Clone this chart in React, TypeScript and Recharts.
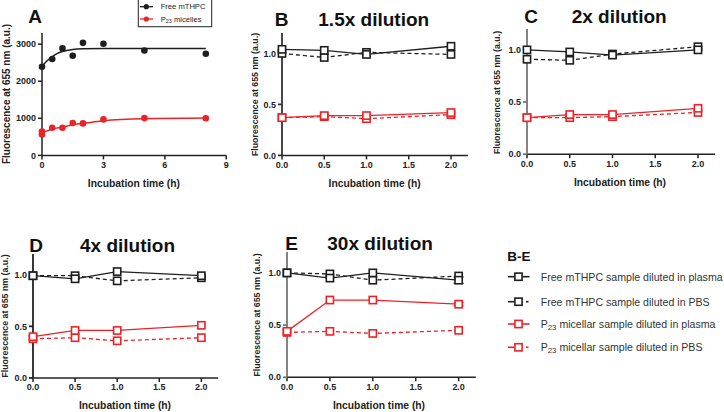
import React from 'react'
import { ComposedChart, LineChart, Line, Scatter, XAxis, YAxis, ErrorBar } from 'recharts'

const FONT = '"Liberation Sans", Arial, sans-serif'
const INK = '#1e1e1e'
const RED = '#ec2227'

const freeTimes = [0, 0.5, 1, 1.5, 2, 3, 5, 8]
const freeValues = [2390, 2600, 2885, 2685, 3035, 3010, 2830, 2740]
const micTimes = [0, 0, 0.5, 1, 1.5, 2, 3, 5, 8]
const micValues = [560, 640, 746, 746, 872, 862, 970, 1006, 1000]
const fitTimes = [0, 0.25, 0.5, 0.75, 1, 1.5, 2, 3, 5, 8]
const fitFree = [2405, 2552, 2660, 2750, 2803, 2857, 2875, 2884, 2884, 2884]
const fitMic = [605, 660, 710, 740, 764, 827, 862, 934, 988, 1006]
const aTicksX = [0, 3, 6, 9]
const aTicksY = [0, 1000, 2000, 3000]

// panels B-E (relative fluorescence)
const dilTimes = [0, 0.5, 1, 2]
const dilTicksX = [0, 0.5, 1, 1.5, 2]
const dilTicksY = [0, 0.5, 1]

const freePlasmaB = [1.04, 1.03, 0.99, 1.07]
const freePbsB = [1.0, 0.96, 1.01, 0.99]
const micPlasmaB = [0.37, 0.39, 0.39, 0.42]
const micPbsB = [0.37, 0.38, 0.36, 0.4]

const freePlasmaC = [1.0, 0.98, 0.95, 1.0]
const freePbsC = [0.91, 0.9, 0.96, 1.03]
const micPlasmaC = [0.35, 0.38, 0.38, 0.44]
const micPbsC = [0.35, 0.35, 0.36, 0.4]

const freePlasmaD = [0.99, 0.96, 1.03, 0.99]
const freePbsD = [0.99, 0.99, 0.94, 0.97]
const micPlasmaD = [0.4, 0.46, 0.46, 0.51]
const micPbsD = [0.38, 0.39, 0.36, 0.39]

const freePlasmaE = [1.0, 0.95, 1.0, 0.93]
const freePbsE = [1.0, 0.99, 0.93, 0.97]
const micPlasmaE = [0.44, 0.74, 0.74, 0.7]
const micPbsE = [0.43, 0.44, 0.42, 0.45]
const freePlasmaErrE = [0, 0, 0, 0.03]
const micPlasmaErrE = [0, 0, 0, 0.015]

const legendLabels = [
  'Free mTHPC sample diluted in plasma',
  'Free mTHPC sample diluted in PBS',
  'micellar sample diluted in plasma',
  'micellar sample diluted in PBS',
]

const pairs = (ts: number[], vs: number[]) => ts.map((t, i) => ({ t, v: vs[i] }))

const rows = (fp: number[], fb: number[], mp: number[], mb: number[], fpe?: number[], mpe?: number[]) =>
  dilTimes.map((t, i) => ({
    t,
    fp: fp[i],
    fb: fb[i],
    mp: mp[i],
    mb: mb[i],
    fpe: fpe ? fpe[i] : 0,
    mpe: mpe ? mpe[i] : 0,
  }))

const tickStyle = { fontSize: 9, fontWeight: 700, fill: '#222', fontFamily: FONT }

const YW = 45
const MT = 6
const MR = 6
const XH = 30

function box(x0: number, x1: number, yTop: number, yBottom: number) {
  return {
    left: x0 - YW,
    top: yTop - MT,
    width: x1 - x0 + YW + MR,
    height: yBottom - yTop + MT + XH,
  }
}

const square = (color: string) => (p: any) => (
  <rect
    key={`sq-${p.index}`}
    x={p.cx - 3.6}
    y={p.cy - 3.6}
    width={7.2}
    height={7.2}
    fill="#fff"
    stroke={color}
    strokeWidth={1.6}
  />
)

const circle = (color: string) => (p: any) => (
  <circle cx={p.cx} cy={p.cy} r={3.3} fill={color} stroke="none" />
)

function PanelA() {
  const b = box(41.7, 226, 32.9, 155.3)
  return (
    <div style={{ position: 'absolute', ...b }}>
      <ComposedChart width={b.width} height={b.height} margin={{ top: MT, right: MR, bottom: 0, left: 0 }}>
        <XAxis
          type="number"
          dataKey="t"
          domain={[0, 9]}
          ticks={aTicksX}
          height={XH}
          tickSize={4}
          tick={tickStyle}
          stroke="#222"
          strokeWidth={1.5}
          allowDuplicatedCategory={false}
        />
        <YAxis
          type="number"
          dataKey="v"
          domain={[0, 3300]}
          ticks={aTicksY}
          width={YW}
          tickSize={4}
          tick={tickStyle}
          stroke="#222"
          strokeWidth={1.5}
        />
        <Line data={pairs(fitTimes, fitFree)} dataKey="v" type="monotone" stroke={INK} strokeWidth={1.5} dot={false} isAnimationActive={false} />
        <Line data={pairs(fitTimes, fitMic)} dataKey="v" type="monotone" stroke={RED} strokeWidth={1.5} dot={false} isAnimationActive={false} />
        <Scatter data={pairs(freeTimes, freeValues)} dataKey="v" fill={INK} shape={circle(INK)} isAnimationActive={false} />
        <Scatter data={pairs(micTimes, micValues)} dataKey="v" fill={RED} shape={circle(RED)} isAnimationActive={false} />
      </ComposedChart>
    </div>
  )
}

interface DilProps {
  x0: number
  x1: number
  yTop: number
  yBottom: number
  data: ReturnType<typeof rows>
  axisColor: string
  errors?: boolean
}

function DilutionPanel({ x0, x1, yTop, yBottom, data, axisColor, errors }: DilProps) {
  const b = box(x0, x1, yTop, yBottom)
  return (
    <div style={{ position: 'absolute', ...b }}>
      <LineChart width={b.width} height={b.height} data={data} margin={{ top: MT, right: MR, bottom: 0, left: 0 }}>
        <XAxis
          type="number"
          dataKey="t"
          domain={[0, 2.2]}
          ticks={dilTicksX}
          tickFormatter={(v: number) => v.toFixed(1)}
          height={XH}
          tickSize={4}
          tick={tickStyle}
          stroke="#222"
          strokeWidth={1.5}
        />
        <YAxis
          type="number"
          domain={[0, 1.2]}
          ticks={dilTicksY}
          tickFormatter={(v: number) => v.toFixed(1)}
          width={YW}
          tickSize={4}
          tick={tickStyle}
          stroke={axisColor}
          strokeWidth={1.8}
        />
        <Line dataKey="fb" type="linear" stroke={INK} strokeWidth={1.3} strokeDasharray="4 3" dot={square(INK)} isAnimationActive={false} />
        <Line dataKey="mb" type="linear" stroke={RED} strokeWidth={1.3} strokeDasharray="4 3" dot={square(RED)} isAnimationActive={false} />
        <Line dataKey="fp" type="linear" stroke={INK} strokeWidth={1.3} dot={square(INK)} isAnimationActive={false}>
          {errors && <ErrorBar dataKey="fpe" width={5} stroke={INK} strokeWidth={1.2} direction="y" />}
        </Line>
        <Line dataKey="mp" type="linear" stroke={RED} strokeWidth={1.3} dot={square(RED)} isAnimationActive={false}>
          {errors && <ErrorBar dataKey="mpe" width={5} stroke={RED} strokeWidth={1.2} direction="y" />}
        </Line>
      </LineChart>
    </div>
  )
}

function YLabel({ x, y, size }: { x: number; y: number; size: number }) {
  return (
    <text
      transform={`translate(${x},${y}) rotate(-90)`}
      textAnchor="middle"
      dominantBaseline="central"
      fontSize={size}
      fontWeight={700}
      fill="#222"
    >
      Fluorescence at 655 nm (a.u.)
    </text>
  )
}

function XLabel({ x, y }: { x: number; y: number }) {
  return (
    <text x={x} y={y} textAnchor="middle" dominantBaseline="central" fontSize={10.3} fontWeight={700} fill="#222">
      Incubation time (h)
    </text>
  )
}

function Title({ letter, lx, text, tx, y }: { letter: string; lx: number; text?: string; tx?: number; y: number }) {
  return (
    <g fontWeight={700} fontSize={19} fill="#111">
      <text x={lx} y={y} textAnchor="middle">{letter}</text>
      {text && <text x={tx} y={y}>{text}</text>}
    </g>
  )
}

function LegendMark({ y, color, dashed }: { y: number; color: string; dashed: boolean }) {
  return (
    <g stroke={color} strokeWidth={1.6}>
      {dashed ? (
        <>
          <line x1={508} y1={y} x2={514} y2={y} />
          <line x1={526} y1={y} x2={528.5} y2={y} />
        </>
      ) : (
        <line x1={508} y1={y} x2={529.5} y2={y} />
      )}
      <rect x={514.9} y={y - 3.6} width={7.2} height={7.2} fill="#fff" />
    </g>
  )
}

function Overlay() {
  const legendRows = [276.7, 301.7, 324, 347.3]
  return (
    <svg
      width={724}
      height={412}
      style={{ position: 'absolute', left: 0, top: 0, pointerEvents: 'none', fontFamily: FONT }}
    >
      <Title letter="A" lx={35} y={23.3} />
      <Title letter="B" lx={281.7} text="1.5x dilution" tx={318.3} y={26} />
      <Title letter="C" lx={531} text="2x dilution" tx={571.7} y={23.3} />
      <Title letter="D" lx={36} text="4x dilution" tx={80} y={251.7} />
      <Title letter="E" lx={291.7} text="30x dilution" tx={327.3} y={250} />

      <YLabel x={6.3} y={94} size={10} />
      <YLabel x={255} y={94.5} size={8.8} />
      <YLabel x={496.7} y={92.5} size={8.8} />
      <YLabel x={4.8} y={316} size={8.8} />
      <YLabel x={256.7} y={315} size={8.8} />

      <XLabel x={133.9} y={183.3} />
      <XLabel x={374.6} y={183} />
      <XLabel x={620} y={182.7} />
      <XLabel x={125} y={405} />
      <XLabel x={379} y={405} />

      {/* panel A legend */}
      <rect x={138.3} y={-0.5} width={73.4} height={27.2} fill="#fff" stroke="#222" strokeWidth={1} />
      <line x1={140} y1={6.7} x2={153} y2={6.7} stroke={INK} strokeWidth={1.3} />
      <circle cx={146.3} cy={6.7} r={2.6} fill={INK} />
      <text x={160.7} y={6.7} dominantBaseline="central" fontSize={7.6} fill="#222">Free mTHPC</text>
      <line x1={140} y1={19} x2={153} y2={19} stroke={RED} strokeWidth={1.3} />
      <circle cx={146.3} cy={19} r={2.6} fill={RED} />
      <text x={160.7} y={19} dominantBaseline="central" fontSize={7.6} fill="#222">
        P<tspan fontSize={5.5} dy={2}>23</tspan>
        <tspan dy={-2}>{'  micelles'}</tspan>
      </text>

      {/* B-E legend */}
      <text x={507.3} y={261} fontSize={13.5} fontWeight={700} fill="#111">B-E</text>
      {legendRows.map((y, i) => (
        <g key={i}>
          <LegendMark y={y} color={i < 2 ? INK : RED} dashed={i % 2 === 1} />
          <text x={540.7} y={y} dominantBaseline="central" fontSize={10.6} fill="#333">
            {i < 2 ? (
              legendLabels[i]
            ) : (
              <>
                P<tspan fontSize={7.8} dy={3}>23</tspan>
                <tspan dy={-3}>{' ' + legendLabels[i]}</tspan>
              </>
            )}
          </text>
        </g>
      ))}
    </svg>
  )
}

export default function App() {
  return (
    <div
      style={{
        position: 'absolute',
        left: 0,
        top: 0,
        width: 724,
        height: 412,
        background: '#fff',
        overflow: 'hidden',
        fontFamily: FONT,
      }}
    >
      <PanelA />
      <DilutionPanel x0={281.7} x1={467.6} yTop={32.9} yBottom={155.3} data={rows(freePlasmaB, freePbsB, micPlasmaB, micPbsB)} axisColor="#333" />
      <DilutionPanel x0={526.7} x1={714.8} yTop={29.1} yBottom={154.3} data={rows(freePlasmaC, freePbsC, micPlasmaC, micPbsC)} axisColor="#777" />
      <DilutionPanel x0={33.3} x1={218.5} yTop={254.3} yBottom={378.3} data={rows(freePlasmaD, freePbsD, micPlasmaD, micPbsD)} axisColor="#222" />
      <DilutionPanel
        x0={286.7}
        x1={475.5}
        yTop={252.4}
        yBottom={377.7}
        data={rows(freePlasmaE, freePbsE, micPlasmaE, micPbsE, freePlasmaErrE, micPlasmaErrE)}
        axisColor="#777"
        errors
      />
      <Overlay />
    </div>
  )
}
